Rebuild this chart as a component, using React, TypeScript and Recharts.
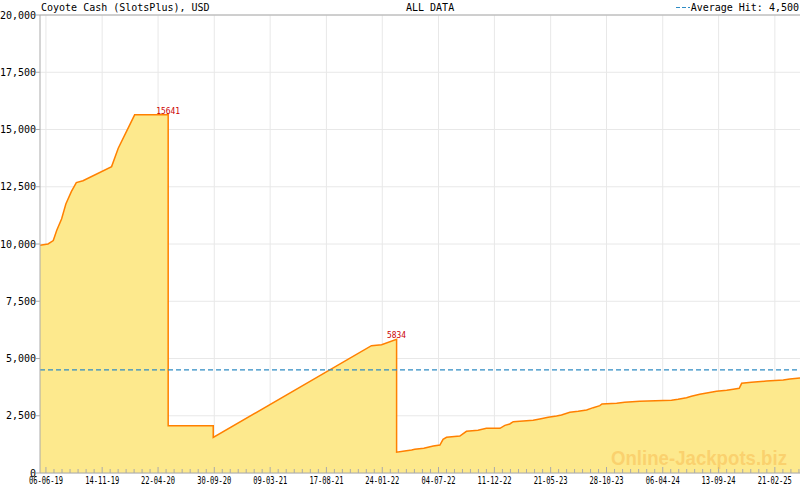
import { AreaChart, Area, XAxis, YAxis, CartesianGrid, ReferenceLine, ReferenceDot } from "recharts";

// jackpot history
const dates = [
  "2019-05-20", "2019-06-12", "2019-06-27", "2019-07-07", "2019-07-21", "2019-08-02",
  "2019-08-18", "2019-09-01", "2019-09-20", "2019-12-11", "2019-12-30", "2020-02-15",
  "2020-05-21", "2020-05-21", "2020-09-27", "2020-09-27", "2021-12-24", "2022-01-22",
  "2022-03-06", "2022-03-06", "2022-03-29", "2022-04-18", "2022-04-27", "2022-05-23",
  "2022-06-19", "2022-07-08", "2022-07-17", "2022-07-27", "2022-09-03", "2022-09-22",
  "2022-10-25", "2022-11-18", "2022-12-27", "2023-01-10", "2023-01-24", "2023-02-03",
  "2023-04-01", "2023-04-20", "2023-05-14", "2023-06-07", "2023-06-21", "2023-07-15",
  "2023-08-08", "2023-09-01", "2023-09-20", "2023-10-09", "2023-10-15", "2023-11-26",
  "2023-12-19", "2024-01-31", "2024-05-01", "2024-05-20", "2024-06-13", "2024-06-27",
  "2024-07-21", "2024-08-14", "2024-09-07", "2024-10-06", "2024-10-25", "2024-11-11",
  "2024-11-18", "2024-12-16", "2025-01-28", "2025-03-17", "2025-04-05", "2025-05-04",
];
const jackpot = [
  9950, 10000, 10150, 10600, 11100, 11750,
  12300, 12680, 12765, 13380, 14180, 15641,
  15641, 2060, 2060, 1550, 5560, 5600,
  5834, 910, 960, 1004, 1034, 1078,
  1179, 1223, 1470, 1557, 1616, 1820,
  1863, 1951, 1951, 2082, 2140, 2241,
  2300, 2358, 2431, 2489, 2533, 2650,
  2693, 2751, 2853, 2940, 3013, 3043,
  3086, 3130, 3174, 3218, 3290, 3348,
  3436, 3508, 3567, 3610, 3654, 3698,
  3916, 3960, 4018, 4061, 4105, 4150,
];

const tickDates = [
  "2019-06-06", "2019-11-14", "2020-04-22", "2020-09-30", "2021-03-09", "2021-08-17",
  "2022-01-24", "2022-07-04", "2022-12-11", "2023-05-21", "2023-10-28", "2024-04-06",
  "2024-09-13", "2025-02-21",
];
const yTicks = [0, 2500, 5000, 7500, 10000, 12500, 15000, 17500, 20000];

const peakDates = ["2020-05-21", "2022-03-06"];
const peakValues = [15641, 5834];

const averageHit = 4500;
const domainStart = "2019-05-20";
const domainEnd = "2025-05-04";

const toTime = (s: string) => Date.parse(s + "T00:00:00Z");

const data = dates.map((d, i) => ({ t: toTime(d), value: jackpot[i] }));
const majorTimes = tickDates.map(toTime);
const DAY = 86400000;

// 6 minor ticks between each pair of labelled ticks
const step = (majorTimes[1] - majorTimes[0]) / 7;
const allTicks: number[] = [];
majorTimes.forEach((t, i) => {
  allTicks.push(t);
  const next = i < majorTimes.length - 1 ? majorTimes[i + 1] : t + 7 * step;
  const s = (next - t) / 7;
  for (let k = 1; k < 7; k++) {
    const m = t + k * s;
    if (m <= toTime(domainEnd)) allTicks.push(m);
  }
});

const mono = "'DejaVu Sans Mono', monospace";

function fmtDate(t: number) {
  const d = new Date(t);
  const dd = String(d.getUTCDate()).padStart(2, "0");
  const mm = String(d.getUTCMonth() + 1).padStart(2, "0");
  const yy = String(d.getUTCFullYear()).slice(2);
  return `${dd}-${mm}-${yy}`;
}

function XTick(props: any) {
  const { x, y, payload } = props;
  const major = majorTimes.some((m) => Math.abs(m - payload.value) < DAY / 2);
  return (
    <g>
      <line x1={x} y1={y} x2={x} y2={y - (major ? 6 : 4)} stroke="#aaaaaa" />
      {major && (
        <text
          x={x}
          y={y + 10.5}
          textAnchor="middle"
          fontFamily={mono}
          fontSize={10}
          textLength={34}
          lengthAdjust="spacingAndGlyphs"
          fill="#000"
        >
          {fmtDate(payload.value)}
        </text>
      )}
    </g>
  );
}

function PeakLabel(props: any) {
  const { cx, cy, value } = props;
  return (
    <text
      x={cx}
      y={cy - 1}
      textAnchor="middle"
      fontFamily={mono}
      fontSize={9.5}
      textLength={value > 9999 ? 24 : 19}
      lengthAdjust="spacingAndGlyphs"
      fill="#cc0000"
    >
      {value}
    </text>
  );
}

export default function App() {
  return (
    <div style={{ position: "absolute", left: 0, top: 0, width: 800, height: 490, background: "#fff" }}>
      <AreaChart width={800} height={490} data={data} margin={{ top: 15, right: 0, left: 0, bottom: 0 }}>
        <CartesianGrid stroke="#e8e8e8" verticalValues={majorTimes} />
        <XAxis
          dataKey="t"
          type="number"
          domain={[toTime(domainStart), toTime(domainEnd)]}
          ticks={allTicks}
          interval={0}
          height={17}
          tickSize={0}
          tickMargin={0}
          tickLine={false}
          tick={<XTick />}
          axisLine={{ stroke: "#aaaaaa" }}
          allowDataOverflow
        />
        <YAxis
          domain={[0, 20000]}
          ticks={yTicks}
          width={40}
          tickSize={4}
          tickMargin={0}
          interval={0}
          tickFormatter={(v: number) => v.toLocaleString("en-US")}
          tick={{ fontFamily: mono, fontSize: 10, fill: "#000" }}
          tickLine={{ stroke: "#aaaaaa" }}
          axisLine={{ stroke: "#aaaaaa" }}
          allowDataOverflow
        />
        <Area
          type="linear"
          dataKey="value"
          stroke="#ff8000"
          strokeWidth={1.5}
          fill="#fde98d"
          fillOpacity={1}
          dot={false}
          activeDot={false}
          isAnimationActive={false}
        />
        <ReferenceLine y={20000} stroke="#aaaaaa" />
        <ReferenceLine y={averageHit} stroke="#2f8cc4" strokeWidth={1.2} strokeDasharray="5 3" />
        {peakDates.map((d, i) => (
          <ReferenceDot
            key={d}
            x={toTime(d)}
            y={peakValues[i]}
            r={0}
            shape={(p: any) => <PeakLabel {...p} value={peakValues[i]} />}
          />
        ))}
      </AreaChart>
      <svg
        width={800}
        height={490}
        style={{ position: "absolute", left: 0, top: 0, pointerEvents: "none" }}
      >
        <text x={41} y={11} fontFamily={mono} fontSize={10} fill="#000">
          Coyote Cash (SlotsPlus), USD
        </text>
        <text x={406} y={11} fontFamily={mono} fontSize={10} fill="#000">
          ALL DATA
        </text>
        <line x1={676} y1={7.5} x2={690} y2={7.5} stroke="#2f8cc4" strokeDasharray="4 2" />
        <text x={799} y={11} textAnchor="end" fontFamily={mono} fontSize={10} fill="#000">
          Average Hit: 4,500
        </text>
        <text
          x={699}
          y={465}
          textAnchor="middle"
          fontFamily="'Liberation Sans', Arial, sans-serif"
          fontWeight="bold"
          fontSize={21}
          textLength={176}
          lengthAdjust="spacingAndGlyphs"
          fill="#f9c25a"
          fillOpacity={0.62}
        >
          Online-Jackpots.biz
        </text>
      </svg>
    </div>
  );
}
